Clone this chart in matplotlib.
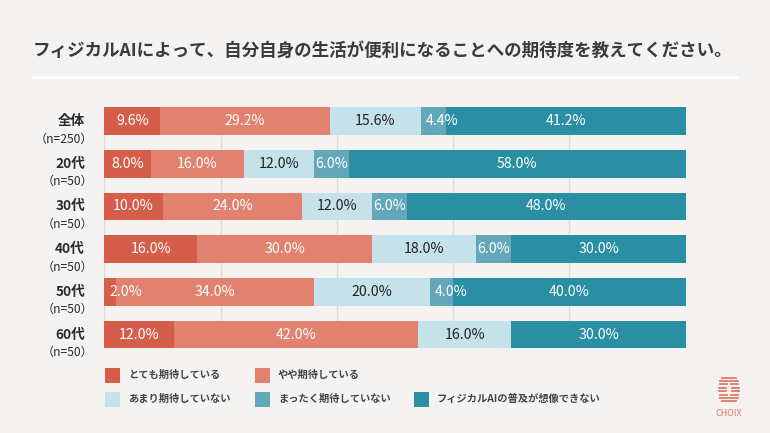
import matplotlib
matplotlib.use("Agg")
import matplotlib.pyplot as plt
from matplotlib.patches import Rectangle
from matplotlib.lines import Line2D

plt.rcParams['font.family'] = ['Noto Sans CJK JP', 'DejaVu Sans']

# ---------------- data ----------------
title = "フィジカルAIによって、自分自身の生活が便利になることへの期待度を教えてください。"
categories = ["全体", "20代", "30代", "40代", "50代", "60代"]
sample_sizes = ["（n=250）", "（n=50）", "（n=50）", "（n=50）", "（n=50）", "（n=50）"]
series_names = ["とても期待している", "やや期待している", "あまり期待していない",
                "まったく期待していない", "フィジカルAIの普及が想像できない"]
very_expect = [9.6, 8.0, 10.0, 16.0, 2.0, 12.0]
somewhat_expect = [29.2, 16.0, 24.0, 30.0, 34.0, 42.0]
not_much_expect = [15.6, 12.0, 12.0, 18.0, 20.0, 16.0]
not_at_all_expect = [4.4, 6.0, 6.0, 6.0, 4.0, 0.0]
cannot_imagine = [41.2, 58.0, 48.0, 30.0, 40.0, 30.0]
series_values = [very_expect, somewhat_expect, not_much_expect, not_at_all_expect, cannot_imagine]

# ---------------- style ----------------
BG = "#f4f3f1"
colors = ["#d55e4a", "#e0826f", "#c5e2ea", "#62a8ba", "#2a8fa2"]
text_colors = ["white", "white", "#222222", "white", "white"]

W, H = 770, 433
fig = plt.figure(figsize=(W / 100, H / 100), dpi=100, facecolor=BG)

def fx(px):
    return px / W

def fy(py):
    return 1 - py / H

# title
fig.text(fx(33), fy(51), title, ha="left", va="center", fontsize=12.65,
         fontweight="bold", color="#3b3b3b")
fig.add_artist(Line2D([fx(33), fx(737)], [fy(77), fy(77)], color="white",
                      lw=2, transform=fig.transFigure))

# axes
left_px, right_px = 104.5, 685.7
top_px, bot_px = 107.1, 348.4
ax = fig.add_axes([fx(left_px), fy(bot_px), fx(right_px - left_px),
                   (bot_px - top_px) / H])
ax.set_facecolor(BG)
ax.set_xlim(0, 100)
bar_h = 0.65
ax.set_ylim(len(categories) - 1 + bar_h / 2, -bar_h / 2)
for s in ax.spines.values():
    s.set_visible(False)
ax.set_xticks([0, 20, 40, 60, 80, 100])
ax.set_yticks([])
ax.tick_params(axis="x", length=0, labelbottom=False)
ax.grid(axis="x", color="#dedcda", lw=1)
ax.set_axisbelow(True)

ypos = list(range(len(categories)))
lefts = [0.0] * len(categories)
for k, vals in enumerate(series_values):
    ax.barh(ypos, vals, left=lefts, height=bar_h, color=colors[k], lw=0, zorder=2)
    for i, v in enumerate(vals):
        if v > 0:
            if v < 5:
                ax.text(lefts[i] + 0.8, i, f"{v:.1f}%", ha="left", va="center",
                        fontsize=10.2, color=text_colors[k], zorder=3)
            else:
                ax.text(lefts[i] + v / 2, i, f"{v:.1f}%", ha="center", va="center",
                        fontsize=10.2, color=text_colors[k], zorder=3)
        lefts[i] += v

# category labels
for i, (c, n) in enumerate(zip(categories, sample_sizes)):
    ax.annotate(c, xy=(0, i), xycoords=("axes fraction", "data"),
                xytext=(-19.5, 0), textcoords="offset pixels", ha="right",
                va="center", fontsize=9.8, fontweight="bold", color="#2b2b2b")
    ax.annotate(n, xy=(0, i), xycoords=("axes fraction", "data"),
                xytext=(-11, -18), textcoords="offset pixels", ha="right",
                va="center", fontsize=8.7, color="#2b2b2b")

# legend (manual)
legend_pos = [(105, 375), (255, 375), (105, 399), (255, 399), (414, 399)]
for (lx, ly), name, col in zip(legend_pos, series_names, colors):
    fig.add_artist(Rectangle((fx(lx), fy(ly + 7.5)), fx(15), 15 / H,
                             transform=fig.transFigure, color=col, lw=0))
    fig.text(fx(lx + 23), fy(ly), name, ha="left", va="center", fontsize=7.4,
             fontweight="bold", color="#444444")

# logo
logo_col = "#e07a65"
lax = fig.add_axes([fx(718), fy(403), fx(22), 27 / H])
lax.set_xlim(0, 22)
lax.set_ylim(27, 0)
lax.axis("off")
rows = 8
for r in range(rows):
    y = 1.5 + r * 3.4
    t = r / (rows - 1)
    m = 1 - abs(2 * t - 1)
    edge = 8 + 2.5 * m          # hexagon-like side
    gap = 7 * m                 # diamond hole
    x0, x1 = 11 - edge, 11 + edge
    if gap < 1:
        lax.plot([x0 + 1, x1 - 1], [y, y], color=logo_col, lw=1.3)
    else:
        lax.plot([x0, 11 - gap / 2], [y, y], color=logo_col, lw=1.3)
        lax.plot([11 + gap / 2, x1], [y, y], color=logo_col, lw=1.3)
fig.text(fx(729), fy(413), "CHOIX", ha="center", va="center", fontsize=6.5,
         color=logo_col)

fig.savefig("out.png", dpi=100, facecolor=BG)
